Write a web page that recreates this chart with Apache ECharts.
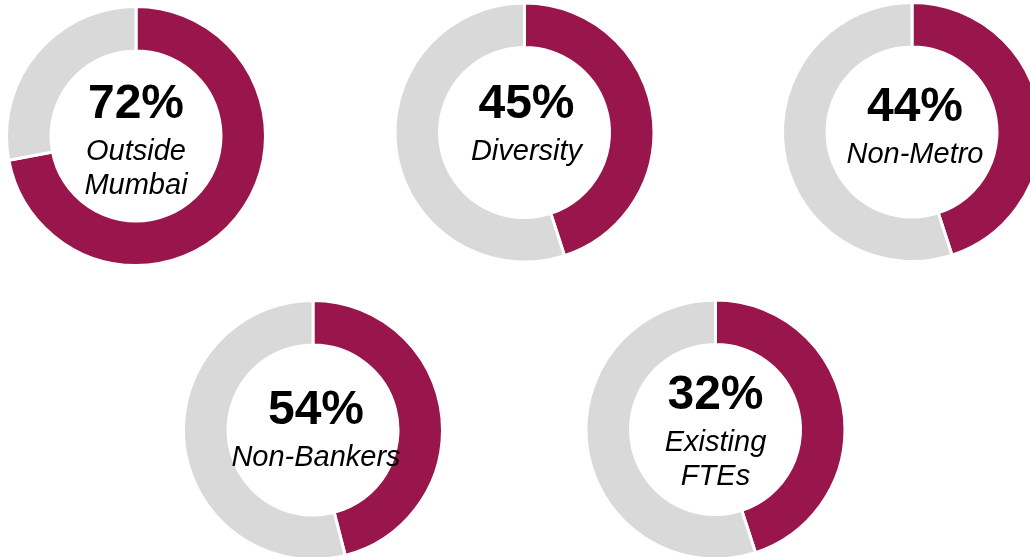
<!DOCTYPE html>
<html>
<head>
<meta charset="utf-8">
<script src="https://cdn.jsdelivr.net/npm/echarts@6/dist/echarts.min.js"></script>
<style>
html,body{margin:0;padding:0;background:#fff;}
#c{width:1030px;height:557px;}
</style>
</head>
<body>
<div id="c"></div>
<script>
// Data
var pctLabels = ['72%', '45%', '44%', '54%', '32%'];
var categories = [['Outside', 'Mumbai'], ['Diversity'], ['Non-Metro'], ['Non-Bankers'], ['Existing', 'FTEs']];
var highlightValues = [72, 45, 45, 46, 45];
var restValues = [28, 55, 55, 54, 55];

// Layout
var centers = [[136, 136], [524.5, 132.5], [912, 132], [313, 430], [715.5, 429.5]];
var labelOffsets = [[0, 3], [2, -11], [3, -7], [3, -2], [0, 0]];
var RED = '#99164D', GREY = '#D9D9D9';

var series = pctLabels.map(function (p, i) {
  var lines = categories[i];
  var text = '{pct|' + p + '}' + lines.map(function (l) { return '\n{sub|' + l + '}'; }).join('');
  return {
    type: 'pie',
    center: centers[i],
    radius: [85, 129.5],
    startAngle: 90,
    clockwise: true,
    silent: true,
    animation: false,
    labelLine: { show: false },
    itemStyle: { borderColor: '#fff', borderWidth: 3 },
    data: [
      {
        value: highlightValues[i], name: p,
        itemStyle: { color: RED },
        label: {
          show: true, position: 'center', offset: labelOffsets[i],
          formatter: text,
          rich: {
            pct: { fontSize: 48, fontWeight: 'bold', fontFamily: 'Liberation Sans, Arial, sans-serif', color: '#000', lineHeight: 60 },
            sub: { fontSize: 29, fontStyle: 'italic', fontFamily: 'Liberation Sans, Arial, sans-serif', color: '#000', lineHeight: 34 }
          }
        }
      },
      { value: restValues[i], name: 'rest', itemStyle: { color: GREY }, label: { show: false } }
    ]
  };
});

var chart = echarts.init(document.getElementById('c'), null, { renderer: 'canvas' });
chart.setOption({ backgroundColor: '#fff', animation: false, series: series });
</script>
</body>
</html>
